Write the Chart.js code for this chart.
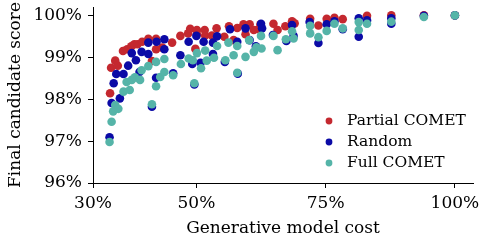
<!DOCTYPE html>
<html>
<head>
<meta charset="utf-8">
<script src="https://cdn.jsdelivr.net/npm/chart.js@4"></script>
<style>
  html, body { margin: 0; padding: 0; background: #fff; }
</style>
</head>
<body>
<canvas id="costChart" width="488" height="244"></canvas>
<script>
// Series data (cost in %, score in %)
const partialCost = [33.3, 33.5, 34.3, 34.8, 35.8, 36.6, 37.4, 38.0, 38.6, 39.5, 40.7, 41.4, 42.2, 42.2, 43.4, 45.3, 46.9, 48.4, 48.8, 49.8, 50.1, 50.1, 51.6, 51.7, 53.0, 53.9, 55.4, 56.3, 57.2, 57.9, 59.1, 59.5, 60.3, 61.1, 62.0, 62.4, 64.9, 65.7, 67.2, 68.5, 69.0, 72.0, 73.6, 75.2, 76.7, 78.3, 83.0, 87.7, 94.0, 100];
const partialScore = [98.14, 98.75, 98.92, 98.80, 99.15, 99.19, 99.26, 99.31, 99.31, 99.37, 99.44, 98.91, 99.44, 99.19, 99.23, 99.35, 99.51, 99.57, 99.68, 99.20, 99.65, 99.55, 99.65, 99.52, 99.52, 99.69, 99.49, 99.74, 99.41, 99.70, 99.79, 99.55, 99.79, 99.65, 99.67, 99.79, 99.80, 99.65, 99.74, 99.86, 99.81, 99.92, 99.76, 99.92, 99.94, 99.91, 99.99, 100.0, 100.0, 100.0];

const randomCost = [33.2, 33.6, 34.0, 34.5, 35.2, 35.9, 36.8, 37.5, 38.3, 39.0, 39.4, 40.7, 40.7, 41.4, 42.2, 42.3, 43.8, 43.8, 45.5, 46.9, 48.5, 49.2, 49.6, 50.0, 50.8, 51.4, 53.2, 53.2, 54.0, 55.5, 56.5, 57.9, 58.0, 59.5, 60.3, 61.5, 62.5, 62.7, 64.8, 67.4, 68.5, 68.8, 71.9, 73.6, 75.2, 76.7, 78.3, 81.4, 81.4, 83.0, 87.7, 87.7, 94.0, 100];
const randomScore = [97.09, 97.91, 98.38, 98.60, 98.02, 98.60, 98.80, 99.10, 98.93, 98.65, 99.13, 99.35, 99.08, 97.82, 98.51, 99.37, 99.43, 99.19, 98.62, 99.05, 99.37, 98.84, 98.35, 99.51, 98.87, 99.37, 99.35, 99.08, 99.50, 98.89, 99.67, 99.37, 98.61, 99.69, 99.41, 99.26, 99.80, 99.69, 99.53, 99.39, 99.77, 99.51, 99.84, 99.34, 99.79, 99.86, 99.67, 99.93, 99.49, 99.88, 99.93, 99.80, 99.99, 100.0];

const fullCost = [33.2, 33.6, 33.9, 34.3, 34.9, 35.9, 36.5, 37.1, 37.5, 38.1, 39.1, 39.4, 40.7, 41.4, 42.2, 42.2, 43.0, 43.8, 43.8, 45.5, 47.0, 48.5, 49.3, 49.6, 50.1, 50.9, 51.7, 52.0, 53.4, 54.0, 55.6, 56.2, 57.2, 57.9, 57.9, 59.5, 60.2, 61.1, 61.6, 62.5, 62.6, 64.9, 65.7, 67.3, 68.5, 68.8, 72.0, 72.0, 73.6, 75.2, 76.7, 78.3, 81.4, 81.4, 83.0, 87.7, 94.0, 100];
const fullScore = [96.98, 97.46, 97.71, 97.86, 97.77, 98.18, 98.41, 98.22, 98.46, 98.52, 98.46, 98.69, 98.79, 97.88, 98.89, 98.31, 98.53, 98.96, 98.65, 98.57, 98.84, 98.97, 98.93, 98.38, 99.10, 98.74, 99.16, 98.92, 98.99, 99.27, 98.93, 99.35, 99.05, 99.27, 98.63, 99.01, 99.41, 99.13, 99.24, 99.51, 99.21, 99.51, 99.17, 99.43, 99.62, 99.45, 99.75, 99.57, 99.48, 99.63, 99.80, 99.69, 99.84, 99.65, 99.80, 99.85, 99.96, 100.0];

const seriesNames = ["Partial COMET", "Random", "Full COMET"];
const seriesColors = ["#c4282f", "#0b0aa6", "#55b4a8"];
const xTicks = [30, 50, 75, 100];
const yTicks = [96, 97, 98, 99, 100];

function toPoints(xs, ys) {
  return xs.map((x, i) => ({ x: x, y: ys[i] }));
}

const FONT = "'DejaVu Serif', serif";
Chart.defaults.font.family = FONT;
Chart.defaults.color = "#000";

// Legend drawn inside the plot, lower right
const innerLegend = {
  id: "innerLegend",
  afterDraw(chart) {
    const ctx = chart.ctx;
    const area = chart.chartArea;
    const mx = area.left + 236;
    const tx = area.left + 254;
    ctx.save();
    ctx.font = "15.5px " + FONT;
    ctx.textBaseline = "middle";
    seriesNames.forEach((name, i) => {
      const y = area.top + 114 + i * 21;
      ctx.beginPath();
      ctx.arc(mx, y, 3.4, 0, Math.PI * 2);
      ctx.fillStyle = seriesColors[i];
      ctx.fill();
      ctx.fillStyle = "#000";
      ctx.fillText(name, tx, y);
    });
    ctx.restore();
  },
};

const datasets = [
  { data: toPoints(partialCost, partialScore), order: 2 },
  { data: toPoints(randomCost, randomScore), order: 1 },
  { data: toPoints(fullCost, fullScore), order: 0 },
].map((ds, i) => ({
  ...ds,
  label: seriesNames[i],
  backgroundColor: seriesColors[i],
  borderColor: seriesColors[i],
  borderWidth: 0,
  pointRadius: 4.3,
}));

new Chart(document.getElementById("costChart"), {
  type: "scatter",
  data: { datasets: datasets },
  options: {
    responsive: false,
    animation: false,
    devicePixelRatio: 1,
    layout: { padding: { top: 7, right: 15, left: 0, bottom: 0 } },
    plugins: {
      legend: { display: false },
      tooltip: { enabled: false },
    },
    scales: {
      x: {
        type: "linear",
        min: 30,
        max: 103.5,
        afterBuildTicks: (scale) => {
          scale.ticks = xTicks.map((v) => ({ value: v }));
        },
        afterFit: (scale) => {
          scale.height = 61;
          scale.paddingLeft = 0;
          scale.paddingRight = 0;
        },
        ticks: {
          font: { size: 17 },
          padding: 5,
          callback: (v) => v + "%",
        },
        grid: { drawOnChartArea: false, drawTicks: true, tickLength: 5, color: "#000" },
        border: { display: true, color: "#000", width: 1 },
        title: {
          display: true,
          text: "Generative model cost",
          font: { size: 17 },
          padding: { top: 0, bottom: 5 },
        },
      },
      y: {
        type: "linear",
        min: 96,
        max: 100.2,
        afterBuildTicks: (scale) => {
          scale.ticks = yTicks.map((v) => ({ value: v }));
        },
        afterFit: (scale) => {
          scale.width = 93;
          scale.paddingTop = 0;
          scale.paddingBottom = 0;
        },
        ticks: {
          font: { size: 17 },
          padding: 6,
          callback: (v) => v + "%",
        },
        grid: { drawOnChartArea: false, drawTicks: true, tickLength: 5, color: "#000" },
        border: { display: true, color: "#000", width: 1 },
        title: {
          display: true,
          text: "Final candidate score",
          font: { size: 17 },
          padding: { top: 5, bottom: 0 },
        },
      },
    },
  },
  plugins: [innerLegend],
});
</script>
</body>
</html>
